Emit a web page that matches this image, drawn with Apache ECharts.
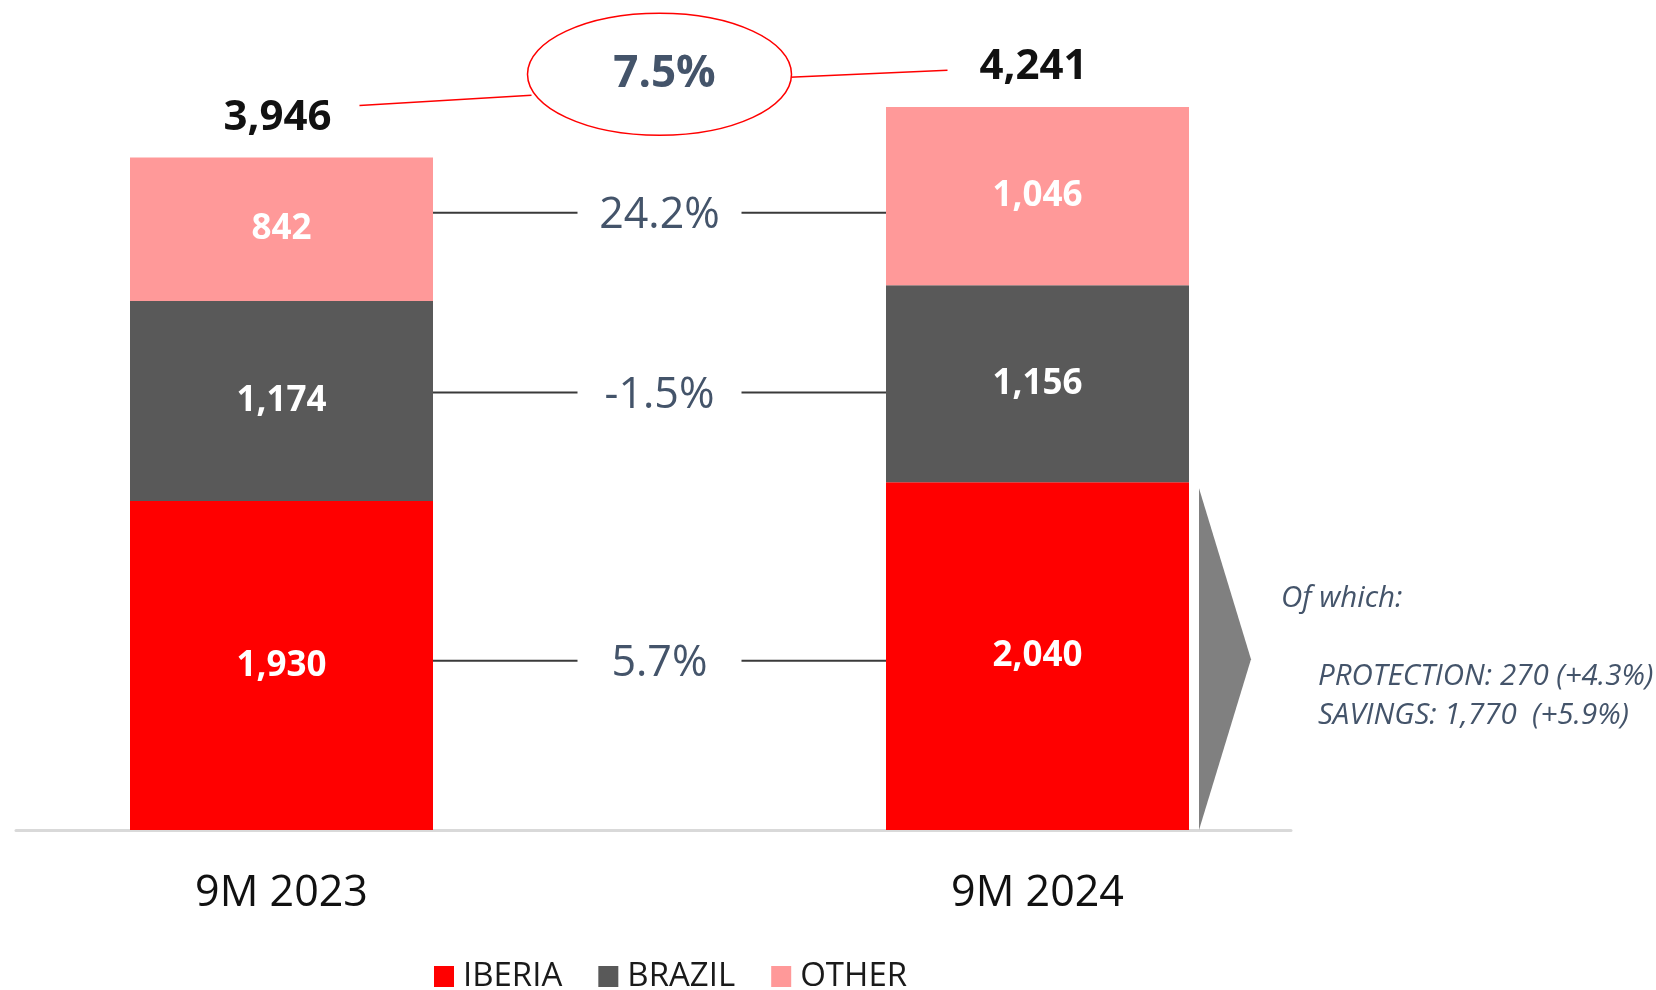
<!DOCTYPE html>
<html>
<head>
<meta charset="utf-8">
<script src="https://cdn.jsdelivr.net/npm/echarts@6/dist/echarts.min.js"></script>
<style>
  html, body { margin: 0; padding: 0; background: #fff; }
  #main { width: 1656px; height: 990px; }
</style>
</head>
<body>
<div id="main"></div>
<script>
// values
const categories = ["9M 2023", "9M 2024"];
const iberia = [1930, 2040];
const brazil = [1174, 1156];
const other = [842, 1046];
const totals = [3946, 4241];
const segmentGrowth = ["5.7%", "-1.5%", "24.2%"]; // iberia, brazil, other
const totalGrowth = "7.5%";
const breakdownTitle = "Of which:";
const breakdownLines = ["PROTECTION: 270 (+4.3%)", "SAVINGS: 1,770  (+5.9%)"];

const FONT = "'Open Sans', sans-serif";
const TEXT_DARK = "#44546a";
const BAR_W = 303;

// connector level for each segment = mean of the two segment midpoints
const segments = [iberia, brazil, other];
const connectorData = segments.map((seg, k) => {
  const mids = categories.map((c, i) => {
    let base = 0;
    for (let j = 0; j < k; j++) base += segments[j][i];
    return base + seg[i] / 2;
  });
  return [0, (mids[0] + mids[1]) / 2];
});

const barLabel = {
  show: true,
  position: "inside",
  color: "#fff",
  fontFamily: FONT,
  fontWeight: "bold",
  fontSize: 35,
  formatter: p => p.value.toLocaleString("en-US")
};

const option = {
  animation: false,
  backgroundColor: "#fff",
  grid: [
    { left: 281.5, right: 618.5, top: 12, bottom: 160 },
    { left: 16, right: 365, top: 829, bottom: 160 }
  ],
  legend: {
    data: ["IBERIA", "BRAZIL", "OTHER"],
    left: 429,
    top: 955,
    icon: "rect",
    itemWidth: 20,
    itemHeight: 21,
    itemGap: 36,
    textStyle: { fontFamily: FONT, fontSize: 33, color: "#1a1a1a", padding: [0, 0, 0, 4] }
  },
  xAxis: [
    {
      type: "category",
      gridIndex: 0,
      data: categories,
      boundaryGap: false,
      axisLine: { show: false },
      axisTick: { show: false },
      axisLabel: { interval: 0, margin: 42, fontFamily: FONT, fontSize: 43, color: "#111" }
    },
    {
      type: "value",
      gridIndex: 1,
      min: 0,
      max: 1,
      axisLine: { show: true, onZero: false, lineStyle: { color: "#d9d9d9", width: 3 } },
      axisTick: { show: false },
      axisLabel: { show: false },
      splitLine: { show: false }
    }
  ],
  yAxis: [
    { type: "value", gridIndex: 0, min: 0, max: 4800, show: false },
    { type: "value", gridIndex: 1, min: 0, max: 1, show: false }
  ],
  graphic: [
    {
      type: "text",
      left: 1281,
      top: 584,
      style: { text: breakdownTitle, fontFamily: FONT, fontStyle: "italic", fontSize: 29.5, fill: TEXT_DARK }
    },
    {
      type: "text",
      left: 1318,
      top: 657,
      style: { text: breakdownLines.join("\n"), lineHeight: 39, fontFamily: FONT, fontStyle: "italic", fontSize: 29.5, fill: TEXT_DARK }
    }
  ],
  series: [
    { name: "IBERIA", type: "bar", stack: "total", barWidth: BAR_W, data: iberia, itemStyle: { color: "#ff0000" }, label: barLabel },
    { name: "BRAZIL", type: "bar", stack: "total", barWidth: BAR_W, data: brazil, itemStyle: { color: "#595959" }, label: barLabel },
    { name: "OTHER", type: "bar", stack: "total", barWidth: BAR_W, data: other, itemStyle: { color: "#ff9999" }, label: barLabel },
    {
      // growth connectors between the two bars
      type: "custom",
      data: connectorData,
      renderItem(params, api) {
        const y = api.value(1);
        const p0 = api.coord([0, y]);
        const p1 = api.coord([1, y]);
        const xl = p0[0] + BAR_W / 2;
        const xr = p1[0] - BAR_W / 2;
        const cx = (p0[0] + p1[0]) / 2;
        const gap = 82;
        const ls = { stroke: "#3a3a3a", lineWidth: 2 };
        return {
          type: "group",
          children: [
            { type: "line", shape: { x1: xl, y1: p0[1], x2: cx - gap, y2: p0[1] }, style: ls },
            { type: "line", shape: { x1: cx + gap, y1: p1[1], x2: xr, y2: p1[1] }, style: ls },
            {
              type: "text",
              style: {
                text: segmentGrowth[params.dataIndex], x: cx, y: p0[1] + 3,
                align: "center", verticalAlign: "middle",
                fontFamily: FONT, fontSize: 43, fill: TEXT_DARK
              }
            }
          ]
        };
      }
    },
    {
      // totals above bars
      type: "custom",
      data: categories.map((c, i) => [i, totals[i]]),
      renderItem(params, api) {
        const p = api.coord([api.value(0), api.value(1)]);
        return {
          type: "text",
          style: {
            text: api.value(1).toLocaleString("en-US"), x: p[0] - 4, y: p[1] - 40,
            align: "center", verticalAlign: "middle",
            fontFamily: FONT, fontWeight: "bold", fontSize: 42, fill: "#111"
          }
        };
      }
    },
    {
      // total growth bubble
      type: "custom",
      data: [[0, totals[0], totals[1]]],
      encode: { x: 0, y: [1, 2] },
      renderItem(params, api) {
        const a = api.coord([0, api.value(1)]);
        const b = api.coord([1, api.value(2)]);
        const cx = (a[0] + b[0]) / 2;
        const cy = b[1] - 33;
        const ls = { stroke: "#ff0000", lineWidth: 1.5 };
        return {
          type: "group",
          children: [
            { type: "line", shape: { x1: a[0] + 78, y1: a[1] - 52, x2: cx - 128, y2: cy + 21 }, style: ls },
            { type: "line", shape: { x1: cx + 130, y1: cy + 3, x2: b[0] - 90, y2: b[1] - 37 }, style: ls },
            { type: "ellipse", shape: { cx: cx, cy: cy, rx: 132, ry: 61 }, style: { fill: "#fff", stroke: "#ff0000", lineWidth: 1.5 } },
            {
              type: "text",
              style: {
                text: totalGrowth, x: cx + 5, y: cy,
                align: "center", verticalAlign: "middle",
                fontFamily: FONT, fontWeight: "bold", fontSize: 44, fill: TEXT_DARK
              }
            }
          ]
        };
      }
    },
    {
      // chevron pointing at the breakdown of 9M 2024 Iberia
      type: "custom",
      data: [[1, iberia[1]]],
      renderItem(params, api) {
        const top = api.coord([api.value(0), api.value(1)]);
        const bot = api.coord([api.value(0), 0]);
        const x = top[0] + BAR_W / 2 + 10;
        return {
          type: "polygon",
          shape: { points: [[x, top[1] + 6], [x + 52, (top[1] + bot[1]) / 2 + 3], [x, bot[1]]] },
          style: { fill: "#808080" }
        };
      }
    }
  ]
};

const chart = echarts.init(document.getElementById("main"));
chart.setOption(option);
</script>
</body>
</html>
